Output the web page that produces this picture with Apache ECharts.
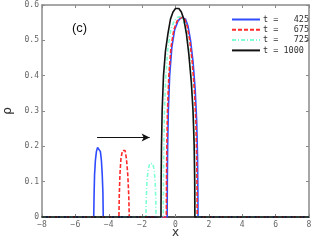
<!DOCTYPE html>
<html><head><meta charset="utf-8">
<script src="https://cdn.jsdelivr.net/npm/echarts@6/dist/echarts.min.js"></script>
<style>html,body{margin:0;padding:0;background:#fff}#c{width:315px;height:242px}</style>
</head><body><div id="c"></div>
<script>
const seriesNames = ['t =   425', 't =   675', 't =   725', 't = 1000'];
const xTicks = [-8, -6, -4, -2, 0, 2, 4, 6, 8];
const yTicks = [0, 0.1, 0.2, 0.3, 0.4, 0.5, 0.6];
const rho425 = [[-8,0],[-4.9,0],[-4.88,0.06],[-4.85,0.12],[-4.8,0.16],[-4.74,0.185],[-4.67,0.197],[-4.62,0.2],[-4.56,0.197],[-4.5,0.185],[-4.44,0.16],[-4.39,0.12],[-4.35,0.07],[-4.33,0],
  [-0.5,0],[-0.49,0.1],[-0.47,0.2],[-0.43,0.3],[-0.35,0.4],[-0.22,0.48],[-0.05,0.53],[0.15,0.555],[0.35,0.565],[0.45,0.566],[0.6,0.56],[0.75,0.54],[0.9,0.5],[1.05,0.44],[1.18,0.36],[1.27,0.27],[1.32,0.17],[1.34,0.08],[1.35,0],[8,0]];
const rho675 = [[-8,0],[-3.39,0],[-3.37,0.06],[-3.33,0.12],[-3.27,0.165],[-3.18,0.188],[-3.1,0.193],[-3.02,0.188],[-2.94,0.165],[-2.86,0.12],[-2.8,0.06],[-2.77,0],
  [-0.55,0],[-0.54,0.1],[-0.52,0.2],[-0.48,0.3],[-0.4,0.4],[-0.27,0.48],[-0.1,0.53],[0.1,0.555],[0.3,0.565],[0.4,0.566],[0.55,0.56],[0.7,0.54],[0.85,0.5],[1.0,0.44],[1.13,0.36],[1.22,0.27],[1.27,0.17],[1.29,0.08],[1.3,0],[8,0]];
const rho725 = [[-8,0],[-1.77,0],[-1.75,0.05],[-1.71,0.1],[-1.64,0.135],[-1.53,0.152],[-1.43,0.155],[-1.35,0.15],[-1.27,0.13],[-1.21,0.09],[-1.18,0.04],[-1.17,0],
  [-0.73,0],[-0.72,0.1],[-0.7,0.2],[-0.66,0.3],[-0.58,0.4],[-0.45,0.48],[-0.28,0.53],[-0.08,0.555],[0.12,0.565],[0.25,0.567],[0.4,0.562],[0.55,0.545],[0.7,0.51],[0.85,0.45],[0.98,0.37],[1.08,0.28],[1.14,0.18],[1.17,0.08],[1.18,0],[8,0]];
const rho1000 = [[-8,0],[-0.87,0],[-0.86,0.1],[-0.84,0.2],[-0.8,0.3],[-0.72,0.4],[-0.6,0.47],[-0.45,0.52],[-0.3,0.56],[-0.15,0.58],[0.0,0.59],[0.1,0.592],[0.2,0.59],[0.35,0.58],[0.5,0.56],[0.65,0.52],[0.8,0.46],[0.95,0.38],[1.05,0.3],[1.12,0.2],[1.15,0.1],[1.16,0],[8,0]];
const arrowPts = [[-4.7,0.225],[-1.55,0.225]];

const colors = ['#2f4bff', '#ff2a2a', '#7fffd4', '#111111'];
const dashes = ['solid', [4,2], [4,2,1,2], 'solid'];
const datas = [rho425, rho675, rho725, rho1000];
const gray = '#8a8a8a';
const mono = 'DejaVu Sans Mono';

const chart = echarts.init(document.getElementById('c'), null, {renderer:'canvas'});
const axisCommon = {
  axisTick:{show:true, inside:true, length:3, lineStyle:{color:gray}},
  splitLine:{show:false}
};
const series = datas.map((d,i)=>({
  type:'line', name:seriesNames[i], data:d, showSymbol:false, symbol:'none', clip:false,
  lineStyle:{color:colors[i], width:1.6, type:dashes[i]}, itemStyle:{color:colors[i]},
  z: 2+i, animation:false
}));
series.push({
  type:'line', data:arrowPts, showSymbol:false, symbol:'none', silent:true,
  lineStyle:{color:'#111', width:1}, animation:false,
  markPoint:{symbol:'arrow', symbolSize:[6,8], symbolRotate:-90, data:[{coord:arrowPts[1]}], itemStyle:{color:'#111'}, label:{show:false}}
});
chart.setOption({
  animation:false,
  title:{text:'(c)', left:67, top:17, textStyle:{fontFamily:'Liberation Sans', fontSize:13, fontWeight:'normal', color:'#111'}},
  legend:{
    data:seriesNames, orient:'vertical', left:231, top:15, itemWidth:28, itemHeight:8, itemGap:1.3, padding:0,
    itemStyle:{opacity:0},
    textStyle:{fontFamily:mono, fontSize:8.5, color:'#333', padding:[0,0,0,-2]}
  },
  grid:{left:42, right:6, top:5, bottom:25, containLabel:false, outerBoundsMode:'none'},
  xAxis:[
    Object.assign({type:'value', min:xTicks[0], max:xTicks[xTicks.length-1], interval:2,
      axisLine:{show:true, onZero:false, lineStyle:{color:'#111', width:1.6}},
      name:'x', nameLocation:'middle', nameGap:10, nameMoveOverlap:false, nameTextStyle:{fontFamily:'DejaVu Sans', fontSize:12, color:'#333'},
      axisLabel:{fontFamily:mono, fontSize:8, color:'#666', margin:4, formatter:v=>String(v).replace('-','\u2212')}}, axisCommon),
    Object.assign({type:'value', position:'top', min:xTicks[0], max:xTicks[xTicks.length-1], interval:2,
      axisLine:{show:true, onZero:false, lineStyle:{color:gray, width:1.5}}, axisLabel:{show:false}}, axisCommon)
  ],
  yAxis:[
    Object.assign({type:'value', min:yTicks[0], max:yTicks[yTicks.length-1], interval:0.1,
      axisLine:{show:true, onZero:false, lineStyle:{color:gray, width:1.5}},
      name:'\u03c1', nameLocation:'middle', nameGap:28, nameRotate:90, nameMoveOverlap:false, nameTextStyle:{fontFamily:'DejaVu Sans', fontSize:12, color:'#333'},
      axisLabel:{fontFamily:mono, fontSize:8, color:'#666', margin:3, formatter:v=>v===0?'0':v.toFixed(1)}}, axisCommon),
    Object.assign({type:'value', position:'right', min:yTicks[0], max:yTicks[yTicks.length-1], interval:0.1,
      axisLine:{show:true, onZero:false, lineStyle:{color:gray, width:1.5}}, axisLabel:{show:false}}, axisCommon)
  ],
  series: series
});
</script></body></html>
